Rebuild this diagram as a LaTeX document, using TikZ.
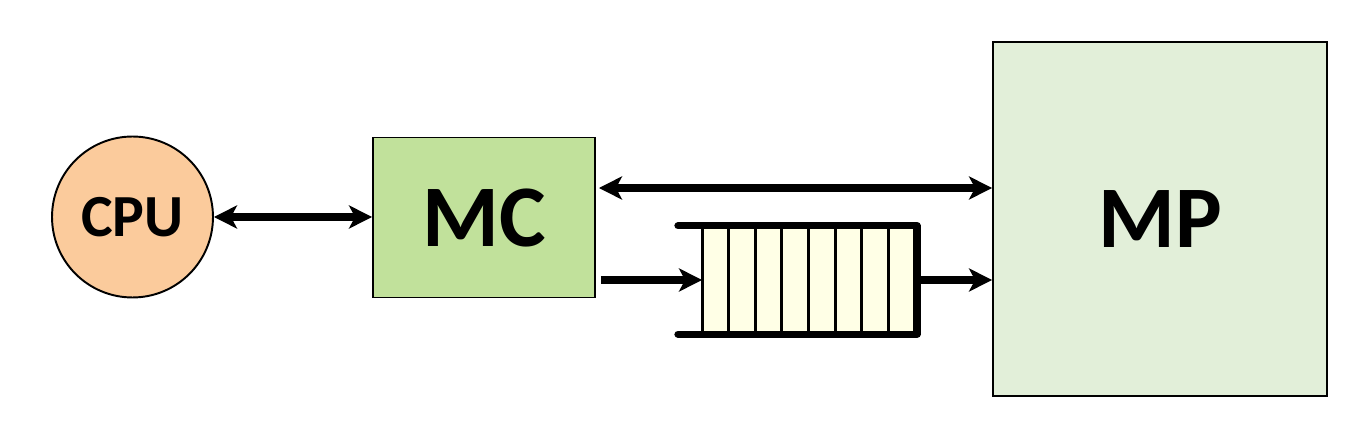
\documentclass[tikz,border=0pt]{standalone}
\usepackage{fontspec}
\setmainfont{Carlito}
\usetikzlibrary{arrows.meta}
\tikzset{>={Stealth[length=4.6mm, width=4.6mm, inset=1.2mm]}}
\definecolor{cpuorange}{HTML}{FBCB9C}
\definecolor{mcgreen}{HTML}{C1E19B}
\definecolor{mpgreen}{HTML}{E2EFD9}
\definecolor{cellfill}{HTML}{FFFFE6}
\newcommand*{\bigfont}{\fontsize{50}{50}\selectfont\bfseries}

\begin{document}
\begin{tikzpicture}[x=.02cm, y=.02cm, line width=1.1pt]
    \useasboundingbox(0, 0)rectangle(1362, 436);
    \node[circle, draw, fill=cpuorange, minimum size=3.22cm, font=\fontsize{34}{34}\selectfont\bfseries](cpu)at(132.5, 219){CPU};
    \node[draw, fill=mcgreen, minimum width=4.44cm, minimum height=3.2cm, font=\bigfont](mc)at(484, 218.5){MC};
    \node[draw, fill=mpgreen, minimum width=6.68cm, minimum height=7.08cm, font=\bigfont](mp)at(1160, 217){MP};
    \node[fill=cellfill, minimum width=4.26cm, minimum height=2.13cm, inner sep=0](queue)at(809.5, 156){};
    \foreach \i in {0, ..., 7}\draw[line width=1.7pt]([xshift=\i*.5325cm]queue.north west)--([xshift=\i*.5325cm]queue.south west);
    \draw[line width=4.2pt, line cap=round, line join=round]([xshift=-.48cm]queue.north west)--(queue.north east)--(queue.south east)--([xshift=-.48cm]queue.south west);
    \draw[<->, line width=4pt](cpu.east)--(cpu.east-|mc.west);
    \draw[<->, line width=4pt, shorten <=.06cm]([yshift=.59cm]mc.east)--([yshift=.59cm]mc.east-|mp.west);
    \draw[->, line width=4pt, shorten <=.1cm](mc.east|-queue.west)--(queue.west);
    \draw[->, line width=4pt](queue.east)--(queue.east-|mp.west);
\end{tikzpicture}
\end{document}
